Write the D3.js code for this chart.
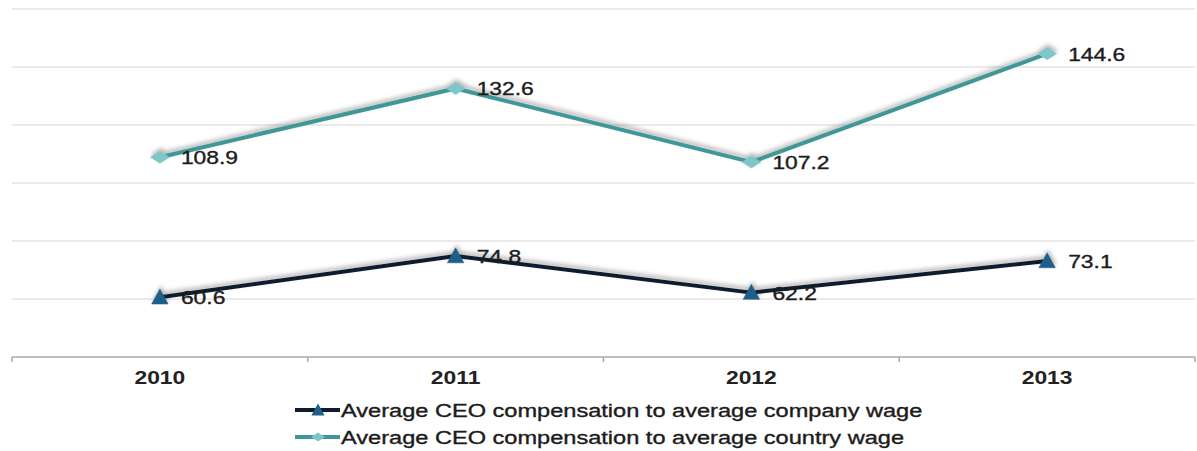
<!DOCTYPE html>
<html>
<head>
<meta charset="utf-8">
<script src="https://cdn.jsdelivr.net/npm/d3@7"></script>
<style>
  html, body { margin: 0; padding: 0; background: #fff; }
  svg { display: block; font-family: "Liberation Sans", Arial, sans-serif; }
</style>
</head>
<body>
<svg id="chart" width="1197" height="451"></svg>
<script>
// Years on the category axis
const years = ["2010", "2011", "2012", "2013"];
// Ratio of average CEO compensation to average company wage
const companyRatio = [60.6, 74.8, 62.2, 73.1];
// Ratio of average CEO compensation to average country wage
const countryRatio = [108.9, 132.6, 107.2, 144.6];
// Gridline values
const yTicks = [40, 60, 80, 100, 120, 140, 160];
const seriesNames = [
  "Average CEO compensation to average company wage",
  "Average CEO compensation to average country wage"
];

const svg = d3.select("#chart");
const stretch = 1.27;       // horizontal text stretch
const legendStretch = 1.31;

const x = d3.scaleBand().domain(years).range([12, 1195]).padding(0);
const y = d3.scaleLinear().domain([40, 160]).range([357, 9]);

const defs = svg.append("defs");
const f = defs.append("filter").attr("id", "shadow")
  .attr("x", "-10%").attr("y", "-50%").attr("width", "120%").attr("height", "200%");
f.append("feDropShadow").attr("dx", 1).attr("dy", -3).attr("stdDeviation", 2)
  .attr("flood-color", "#777").attr("flood-opacity", 0.55);

// Horizontal gridlines
svg.append("g").selectAll("line").data(yTicks.slice(1)).join("line")
  .attr("x1", 12).attr("x2", 1195)
  .attr("y1", d => y(d)).attr("y2", d => y(d))
  .attr("stroke", "#e3e3e3").attr("stroke-width", 1.5);

// Category axis with ticks on band boundaries
const axisG = svg.append("g").attr("transform", `translate(0,${y(40)})`);
axisG.append("line").attr("x1", 12).attr("x2", 1195)
  .attr("stroke", "#a8a8a8").attr("stroke-width", 1.5);
const bounds = years.map(d => x(d)).concat([x(years[years.length - 1]) + x.bandwidth()]);
axisG.selectAll("line.tk").data(bounds).join("line").attr("class", "tk")
  .attr("x1", d => d).attr("x2", d => d).attr("y1", 0).attr("y2", 5)
  .attr("stroke", "#a8a8a8").attr("stroke-width", 1.5);
axisG.selectAll("text").data(years).join("text")
  .attr("transform", d => `translate(${x(d) + x.bandwidth() / 2},27) scale(${stretch},1)`)
  .attr("text-anchor", "middle")
  .attr("font-size", 18).attr("font-weight", "bold").attr("fill", "#222")
  .text(d => d);

const cx = d => x(d) + x.bandwidth() / 2;

function triangle(s) {
  return `M0,${-s * 0.55}L${s * 0.55},${s * 0.45}L${-s * 0.55},${s * 0.45}Z`;
}
function diamond(w, h) {
  return `M0,${-h / 2}L${w / 2},0L0,${h / 2}L${-w / 2},0Z`;
}

const series = [
  { name: seriesNames[0], values: companyRatio, line: "#0f1e2d", fill: "#1f5f88", marker: triangle(15) },
  { name: seriesNames[1], values: countryRatio, line: "#3f9797", fill: "#7fc6c9", marker: diamond(19, 12) }
];

const line = d3.line().x(d => cx(d.year)).y(d => y(d.value));

series.forEach(s => {
  const pts = years.map((yr, i) => ({ year: yr, value: s.values[i] }));
  const g = svg.append("g").attr("filter", "url(#shadow)");
  g.append("path").datum(pts).attr("d", line)
    .attr("fill", "none").attr("stroke", s.line).attr("stroke-width", 4)
    .attr("stroke-linejoin", "round");
  g.selectAll("path.m").data(pts).join("path").attr("class", "m")
    .attr("d", s.marker)
    .attr("transform", d => `translate(${cx(d.year)},${y(d.value)})`)
    .attr("fill", s.fill).attr("stroke", s.fill).attr("stroke-width", 0.5);
  svg.append("g").selectAll("text").data(pts).join("text")
    .attr("transform", d => `translate(${cx(d.year) + 21},${y(d.value) + 7}) scale(${stretch},1)`)
    .attr("font-size", 18).attr("fill", "#1c1c1c")
    .attr("stroke", "#1c1c1c").attr("stroke-width", 0.35)
    .text(d => d.value.toFixed(1));
});

// Legend
const legend = svg.append("g");
series.forEach((s, i) => {
  const ly = 410 + i * 27;
  const lg = legend.append("g");
  lg.append("line").attr("x1", 295).attr("x2", 340).attr("y1", ly).attr("y2", ly)
    .attr("stroke", s.line).attr("stroke-width", 4);
  lg.append("path").attr("d", i === 0 ? triangle(12) : diamond(14, 9))
    .attr("transform", `translate(318,${ly})`).attr("fill", s.fill);
  lg.append("text")
    .attr("transform", `translate(341,${ly + 7}) scale(${legendStretch},1)`)
    .attr("font-size", 18).attr("fill", "#1c1c1c")
    .attr("stroke", "#1c1c1c").attr("stroke-width", 0.35)
    .text(s.name);
});
</script>
</body>
</html>
